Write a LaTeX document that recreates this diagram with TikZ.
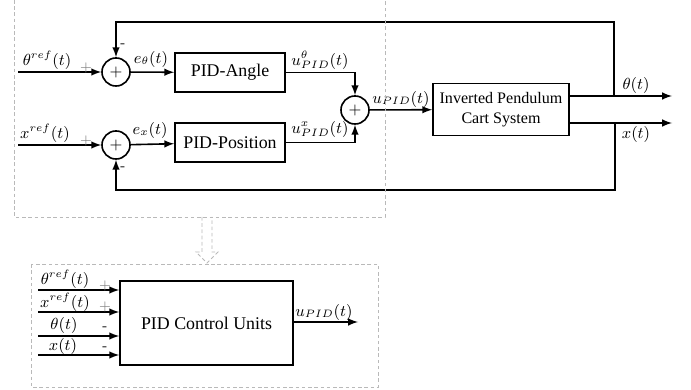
\documentclass[tikz,border=0pt]{standalone}
\usepackage{fontspec}
\setmainfont{Liberation Serif}
\usepackage{amsmath}
\usepackage{tikz}
\usetikzlibrary{arrows,positioning,calc}

\begin{document}
\begin{tikzpicture}[x=0.56pt, y=-0.56pt, >=latex, line width=0.9pt,
    block/.style={draw, rectangle, minimum width=61.6pt, minimum height=21.8pt, inner sep=1pt},
    sumnode/.style={draw, circle, minimum size=15.7pt, inner sep=0pt, font=\sffamily\small},
    lbl/.style={inner sep=0pt, font=\small},
    sign/.style={inner sep=0pt, font=\sffamily\footnotesize},
    frame/.style={draw=gray!55, line width=0.5pt, dash pattern=on 2pt off 1.5pt}]
    \useasboundingbox (0, 0) rectangle (691, 390);

    % upper loop
    \node[sumnode] (suma) at (116, 72) {+};
    \node[sumnode] (sumb) at (116, 145) {+};
    \node[block] (pidang) at (230, 72.5) {PID-Angle};
    \node[block] (pidpos) at (230, 142.5) {PID-Position};
    \node[sumnode] (sumc) at (355, 110) {+};
    \node[block, minimum width=76.2pt, minimum height=29.1pt, align=center, font=\small] (cart) at (501, 109.5) {Inverted Pendulum\\Cart System};

    \coordinate (thref) at (18, 72);
    \coordinate (xref) at (18, 145);
    \coordinate (thtap) at (614, 96);
    \coordinate (xtap) at (615, 123);
    \coordinate (thout) at (672, 96);
    \coordinate (xout) at (672, 123);
    \coordinate (fbtop) at (614, 22);
    \coordinate (fbbot) at (615, 190);

    \draw[->] (thref) -- (suma);
    \draw[->] (xref) -- (sumb);
    \draw[->] (suma) -- (pidang);
    \draw[->] (sumb) -- (pidpos);
    \draw[->] (pidang.east) -| (sumc.north);
    \draw[->] (pidpos.east) -| (sumc.south);
    \draw[->] (sumc) -- (cart);
    \draw[->] (cart.east |- thout) -- (thout);
    \draw[->] (cart.east |- xout) -- (xout);
    \draw[->] (thtap) -- (fbtop) -| (suma.north);
    \draw[->] (xtap) -- (fbbot) -| (sumb.south);

    \node[lbl] (lthref) at (47, 60) {$\theta^{ref}(t)$};
    \node[lbl] (lxref) at (45, 133) {$x^{ref}(t)$};
    \node[lbl] (leth) at (151, 59) {$e_\theta(t)$};
    \node[lbl] (lex) at (150, 130) {$e_x(t)$};
    \node[lbl] (luth) at (320, 60) {$u^{\theta}_{PID}(t)$};
    \node[lbl] (lux) at (320, 129) {$u^{x}_{PID}(t)$};
    \node[lbl] (lu) at (401, 99) {$u_{PID}(t)$};
    \node[lbl] (lth) at (636, 85) {$\theta(t)$};
    \node[lbl] (lx) at (636, 134) {$x(t)$};
    \node[sign, gray] (pa) at (86, 68) {+};
    \node[sign, gray] (pb) at (86, 141) {+};
    \node[sign] (ma) at (123, 46) {-};
    \node[sign] (mb) at (123, 169) {-};

    % dashed frames
    \draw[frame] (14, 0) -- (14, 217) -- (385, 217) -- (385, 0);
    \draw[frame] (31, 264) rectangle (378, 387);
    \draw[frame] (202, 217) -- (202, 252) -- (196, 252) -- (207, 263) -- (218, 252) -- (212, 252) -- (212, 217);

    % compact unit
    \node[draw, rectangle, minimum width=96.9pt, minimum height=47pt] (pcu) at (206.5, 323) {PID Control Units};
    \coordinate (ina) at (38, 290);
    \coordinate (inb) at (38, 312);
    \coordinate (inc) at (38, 336);
    \coordinate (ind) at (38, 355);
    \coordinate (uout) at (358, 322);
    \foreach \n in {ina, inb, inc, ind} {
        \draw[->] (\n) -- (\n -| pcu.west);
    }
    \draw[->] (pcu.east |- uout) -- (uout);

    \node[lbl] (lpa) at (65, 279) {$\theta^{ref}(t)$};
    \node[lbl] (lpb) at (65, 302) {$x^{ref}(t)$};
    \node[lbl] (lpc) at (64, 325) {$\theta(t)$};
    \node[lbl] (lpd) at (63, 346) {$x(t)$};
    \node[lbl] (lpu) at (324, 312) {$u_{PID}(t)$};
    \node[sign, gray] (spa) at (105, 286) {+};
    \node[sign, gray] (spb) at (105, 307) {+};
    \node[sign] (spc) at (105, 329) {-};
    \node[sign] (spd) at (105, 349) {-};
\end{tikzpicture}
\end{document}
